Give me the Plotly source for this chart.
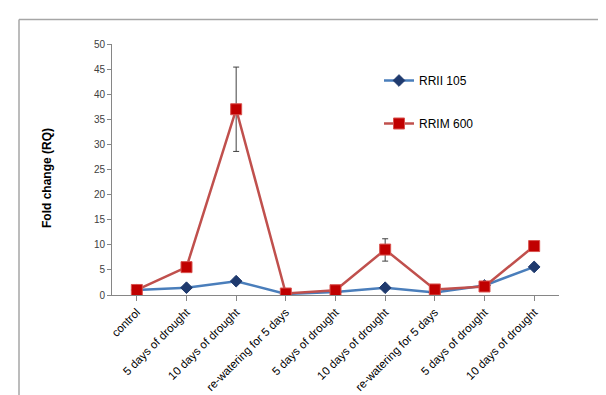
import plotly.graph_objects as go

categories = ["control", "5 days of drought", "10 days of drought", "re-watering for 5 days",
              "5 days of drought", "10 days of drought", "re-watering for 5 days",
              "5 days of drought", "10 days of drought"]
rrii_105 = [1.0, 1.45, 2.75, 0.2, 0.6, 1.45, 0.5, 1.9, 5.6]
rrim_600 = [1.0, 5.55, 37.0, 0.3, 0.95, 9.05, 1.1, 1.7, 9.75]
rrim_err_plus = [0, 0, 8.4, 0, 0, 2.15, 0, 0, 0]
rrim_err_minus = [0, 0, 8.4, 0, 0, 2.3, 0, 0, 0]
y_ticks = [0, 5, 10, 15, 20, 25, 30, 35, 40, 45, 50]

x_idx = list(range(len(categories)))

fig = go.Figure()
fig.add_trace(go.Scatter(
    x=x_idx, y=rrii_105, name="RRII 105", mode="lines+markers",
    line=dict(color="#4A7EBB", width=2.5),
    marker=dict(symbol="diamond", size=9, color="#1F3A6E", line=dict(color="#1F3A6E", width=1)),
))
fig.add_trace(go.Scatter(
    x=x_idx, y=rrim_600, name="RRIM 600", mode="lines+markers",
    line=dict(color="#C0504D", width=2.5),
    marker=dict(symbol="square", size=11, color="#C00000", line=dict(color="#D9534F", width=1)),
    error_y=dict(type="data", symmetric=False, array=rrim_err_plus, arrayminus=rrim_err_minus,
                 color="#404040", thickness=1, width=3),
))

L, R, T, B = 104, 55, 36, 108
W, H = 606, 395
pw, ph = W - L - R, H - T - B

def px_x(p):
    return (p - L) / pw

def px_y(p):
    return (H - B - p) / ph

fig.update_layout(
    width=W, height=H,
    margin=dict(l=L, r=R, t=T, b=B, autoexpand=False),
    paper_bgcolor="white", plot_bgcolor="white",
    font=dict(family="Liberation Sans, Arial, sans-serif", color="#404040"),
    showlegend=True,
    legend=dict(x=px_x(371), y=px_y(58), xanchor="left", yanchor="top",
                font=dict(size=12, color="#000000"), bgcolor="rgba(0,0,0,0)",
                tracegroupgap=24),
    xaxis=dict(
        tickmode="array", tickvals=x_idx, ticktext=categories,
        range=[-0.5, len(categories) - 0.5],
        tickangle=-45, tickfont=dict(size=11.5, color="#000000"),
        showline=True, linecolor="#868686", linewidth=1,
        ticks="outside", tickson="boundaries", ticklen=5, tickcolor="#868686",
        showgrid=False, zeroline=False, automargin=False,
    ),
    yaxis=dict(
        range=[0, 50], tickvals=y_ticks,
        tickfont=dict(size=10, color="#404040"),
        showline=True, linecolor="#868686", linewidth=1,
        ticks="outside", ticklen=4, tickcolor="#868686",
        showgrid=False, zeroline=False, automargin=False,
    ),
    annotations=[dict(
        text="<b>Fold change (RQ)</b>", textangle=-90,
        x=px_x(30), y=px_y(170), xref="paper", yref="paper",
        showarrow=False, font=dict(size=12, color="#000000"),
    )],
    shapes=[
        dict(type="line", xref="paper", yref="paper", x0=px_x(11), x1=px_x(606),
             y0=px_y(11.5), y1=px_y(11.5), line=dict(color="#A6A6A6", width=1.5)),
        dict(type="line", xref="paper", yref="paper", x0=px_x(11), x1=px_x(11),
             y0=px_y(11.5), y1=px_y(395), line=dict(color="#A6A6A6", width=1.5)),
    ],
)
for i, tr in enumerate(fig.data):
    tr.legendgroup = "g%d" % i

fig.write_html("out.html")
